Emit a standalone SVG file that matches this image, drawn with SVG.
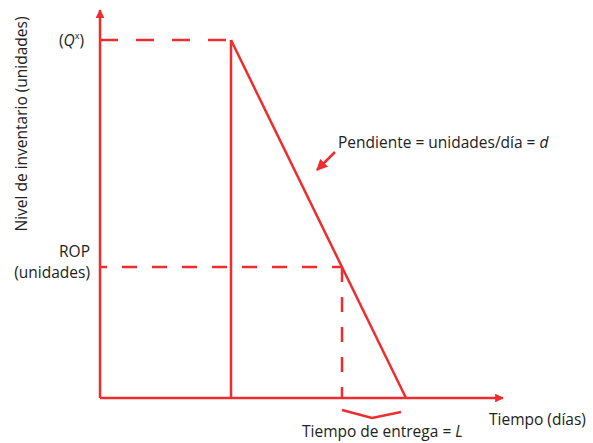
<svg xmlns="http://www.w3.org/2000/svg" width="593" height="443" viewBox="0 0 593 443">
<style>
.ln{stroke:#EE2E2E;stroke-width:2.5;fill:none}
.ds{stroke:#EE2E2E;stroke-width:2.5;fill:none;stroke-dasharray:18 18}
.t{font-family:"Open Sans","Noto Sans",sans-serif;font-size:15.5px;fill:#222}
</style>
<defs>
<marker id="ah" viewBox="0 0 10 10" refX="9" refY="5" markerWidth="4" markerHeight="3.5" orient="auto" markerUnits="strokeWidth">
<path d="M0,0 L10,5 L0,10 z" fill="#EE2E2E"/>
</marker>
<marker id="ah2" viewBox="0 0 10 10" refX="9" refY="5" markerWidth="4.5" markerHeight="4.5" orient="auto" markerUnits="strokeWidth">
<path d="M0,0 L10,5 L0,10 z" fill="#EE2E2E"/>
</marker>
</defs>
<rect width="593" height="443" fill="#fff"/>
<g id="connectors">
<line class="ln" x1="100" y1="398" x2="100" y2="10" marker-end="url(#ah)"/>
<line class="ln" x1="100" y1="398" x2="503" y2="398" marker-end="url(#ah)"/>
<line class="ds" x1="100" y1="40" x2="231" y2="40"/>
<line class="ln" x1="231" y1="40" x2="231" y2="398"/>
<line class="ln" x1="231" y1="40" x2="406" y2="398"/>
<line class="ds" style="stroke-dasharray:15 15;stroke-dashoffset:8" x1="100" y1="267" x2="342" y2="267"/>
<line class="ds" style="stroke-dasharray:15 15" x1="342" y1="267" x2="342" y2="398"/>
<polyline class="ln" points="342,410 372,418 401,412"/>
<line class="ln" x1="335" y1="152" x2="317" y2="170" marker-end="url(#ah2)"/>
</g>
<g id="labels">
<text class="t" x="84" y="46" text-anchor="end">(<tspan font-style="italic">Q</tspan><tspan font-size="9" dy="-7">x</tspan><tspan dy="7">)</tspan></text>
<text class="t" x="90" y="257" text-anchor="end">ROP</text>
<text class="t" x="90" y="278" text-anchor="end">(unidades)</text>
<text class="t" x="338" y="148">Pendiente = unidades/día = <tspan font-style="italic">d</tspan></text>
<text class="t" x="489" y="425">Tiempo (días)</text>
<text class="t" x="302" y="437">Tiempo de entrega = <tspan font-style="italic">L</tspan></text>
<text class="t" transform="translate(27,124) rotate(-90)" text-anchor="middle">Nivel de inventario (unidades)</text>
</g>
</svg>
